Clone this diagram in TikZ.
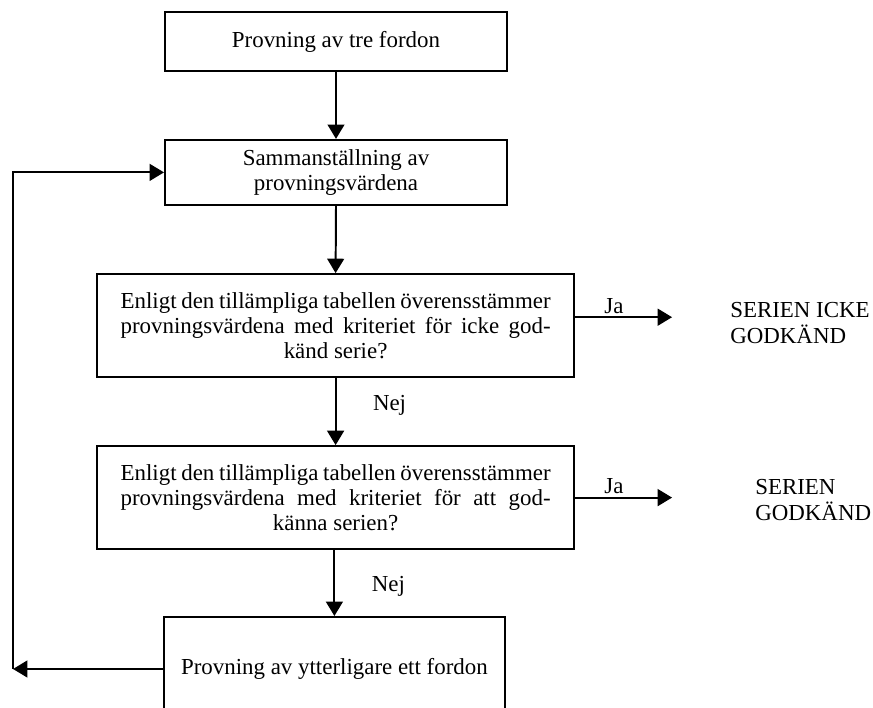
\documentclass[tikz,border=0pt]{standalone}
\usepackage{fontspec}
\setmainfont{Liberation Serif}
\usetikzlibrary{positioning}
\usetikzlibrary{calc}
\usetikzlibrary{arrows.meta}

\newcommand{\fullline}[1]{\makebox[10.75cm][s]{#1}}

\begin{document}
\begin{tikzpicture}
            [
                stage/.style={rectangle, draw, line width=1.4pt, align=center, font=\fontsize{16.3}{17.9}\selectfont},
                arrow/.style={line width=1.4pt, -{Triangle[length=0.36cm, width=0.42cm]}},
                answer/.style={font=\fontsize{16.3}{17.9}\selectfont, inner sep=2pt},
                verdict/.style={align=left, anchor=west, inner sep=0pt, font=\fontsize{16.3}{18.6}\selectfont}
            ]
            \clip (0,0) rectangle (21.825,17.7);
            %nodes
            \node[stage, minimum width=8.55cm, minimum height=1.475cm] at (8.4,16.66)     (provning_tre)     {Provning av tre fordon};
            \node[stage, minimum width=8.55cm, minimum height=1.625cm] at (8.4,13.39)     (sammanstallning)  {Sammanställning av\\provningsvärdena};
            \node[stage, minimum width=11.925cm, minimum height=2.575cm] at (8.39,9.56)   (kriterium_ej)     {\fullline{Enligt den tillämpliga tabellen överensstämmer}\\\fullline{provningsvärdena med kriteriet för icke god-}\\känd serie?};
            \node[stage, minimum width=11.925cm, minimum height=2.575cm] at (8.39,5.26)   (kriterium_ja)     {\fullline{Enligt den tillämpliga tabellen överensstämmer}\\\fullline{provningsvärdena med kriteriet för att god-}\\känna serien?};
            \node[stage, minimum width=8.525cm, minimum height=2.6cm] at (8.36,0.975)     (ytterligare)      {Provning av ytterligare ett fordon};
            \node[verdict] at (18.25,9.625)                                               (ej_godkand)       {SERIEN ICKE\\GODKÄND};
            \node[verdict] at (18.875,5.19)                                               (godkand)          {SERIEN\\GODKÄND};
            \coordinate (ja_ej_start) at ($(kriterium_ej.north east)!0.42!(kriterium_ej.south east)$);
            \coordinate (ja_ej_end)   at ($(ja_ej_start)+(2.425,0)$);
            \coordinate (ja_ja_end)   at ($(kriterium_ja.east)+(2.425,0)$);
            \coordinate (retur)       at (0.325,0.975);
            %arrows
            \draw[arrow] (provning_tre.south) -- (sammanstallning.north);
            \draw[arrow] (sammanstallning.south) -- (kriterium_ej.north);
            \draw[arrow] (kriterium_ej.south) -- node[answer, pos=0.4, right=0.84cm] {Nej} (kriterium_ja.north);
            \draw[arrow] (kriterium_ja.south -| ytterligare.north) -- node[answer, pos=0.55, right=0.84cm] {Nej} (ytterligare.north);
            \draw[arrow] (ja_ej_start) -- node[answer, pos=0.4, above] {Ja} (ja_ej_end);
            \draw[arrow] (kriterium_ja.east) -- node[answer, pos=0.4, above] {Ja} (ja_ja_end);
            \draw[arrow] (ytterligare.west) -- (retur);
            \draw[arrow] (retur) |- (sammanstallning.west);
        \end{tikzpicture}
\end{document}
